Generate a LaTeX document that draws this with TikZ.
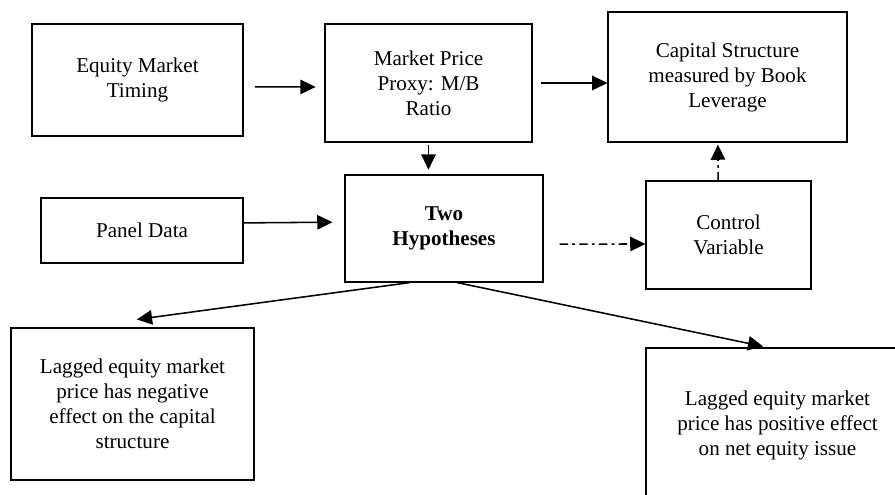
\documentclass[tikz,border=0pt]{standalone}
\usepackage{fontspec}
\setmainfont{Liberation Serif}
\usetikzlibrary{arrows.meta, positioning}
\tikzset{block/.style={draw, rectangle, align=center, inner sep=0pt, line width=0.8pt, font=\fontsize{15}{17.8}\selectfont}}
\tikzset{link/.style={line width=1.1pt, -{Triangle[length=0.38cm, width=0.36cm]}}}
\tikzset{dashlink/.style={link, dash pattern=on 6pt off 3pt on 2pt off 3pt}}

\begin{document}
\begin{tikzpicture}
            \useasboundingbox (0, 0) rectangle (22.375, 12.35);
            \clip (0, 0) rectangle (22.375, 12.35);

            \node [block, minimum width=5.275cm, minimum height=2.8cm] (timing) at (3.4375, 10.35) {Equity Market\\Timing};
            \node [block, minimum width=5.175cm, minimum height=2.95cm] (proxy) at (10.7125, 10.275) {Market Price\\Proxy: M/B\\Ratio};
            \node [block, minimum width=5.975cm, minimum height=3.25cm] (capital) at (18.1875, 10.425) {Capital Structure\\measured by Book\\Leverage};
            \node [block, minimum width=5.05cm, minimum height=1.625cm] (panel) at (3.55, 6.5875) {Panel Data};
            \node [block, minimum width=4.95cm, minimum height=2.675cm] (hyp) at (11.1, 6.6375) {\bfseries Two\\\bfseries Hypotheses};
            \node [block, minimum width=4.125cm, minimum height=2.7cm] (control) at (18.2125, 6.475) {Control\\Variable};
            \node [block, minimum width=6.075cm, minimum height=3.8cm] (neg) at (3.3125, 2.25) {Lagged equity market\\price has negative\\effect on the capital\\structure};
            \node [block, minimum width=6.575cm, minimum height=3.85cm] (pos) at (19.4375, 1.725) {Lagged equity market\\price has positive effect\\on net equity issue};

            \draw [link, shorten <=0.28cm, shorten >=0.22cm] ([yshift=-0.17cm]timing.east) -- ([yshift=-0.1cm]proxy.west);
            \draw [link, shorten <=0.2cm] (proxy.east) -- (proxy.east -| capital.west);
            \draw [link, shorten <=0.05cm, shorten >=0.12cm] (proxy.south) -- (proxy.south |- hyp.north);
            \draw [link, shorten >=0.3cm] ([yshift=0.19cm]panel.east) -- ([yshift=0.16cm]hyp.west);

            \draw [dashlink, shorten <=0.4cm] ([yshift=-0.39cm]hyp.east) -- ([yshift=-0.225cm]control.west);
            \draw [dashlink, shorten >=0.05cm] ([xshift=-0.26cm]control.north) -- ([xshift=-0.24cm]capital.south);

            \draw [link] ([xshift=-0.85cm]hyp.south) -- ([xshift=0.11cm, yshift=0.2cm]neg.north);
            \draw [link] ([xshift=0.325cm]hyp.south) -- ([xshift=-0.36cm, yshift=0.025cm]pos.north);
        \end{tikzpicture}
\end{document}
